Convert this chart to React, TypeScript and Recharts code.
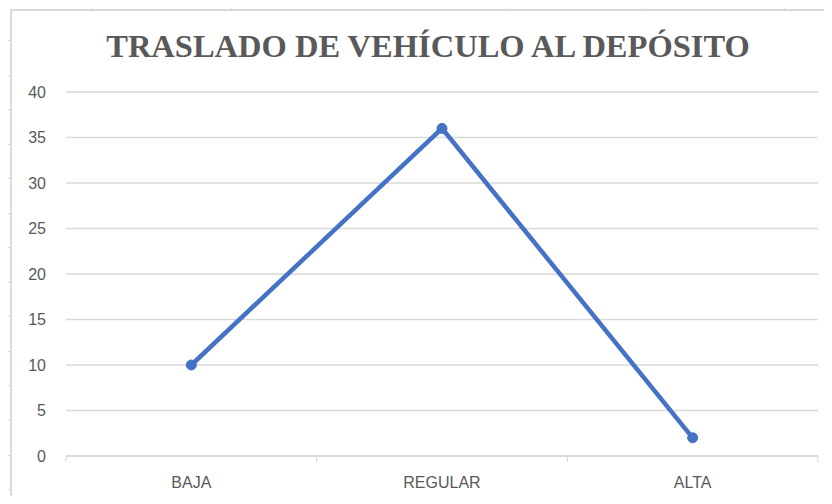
import { LineChart, Line, XAxis, YAxis, CartesianGrid } from "recharts";

const categories = ["BAJA", "REGULAR", "ALTA"];
const values = [10, 36, 2];
const yTicks = [0, 5, 10, 15, 20, 25, 30, 35, 40];

const data = categories.map((name, i) => ({ name, value: values[i] }));

// sheet gridline stubs around the chart frame
const colStubs = [92, 231, 506, 645, 784];
const rowStubs = [40, 75, 109, 144, 178, 213, 247, 282, 316, 351, 385, 420, 455, 489];

const PLOT_LEFT = 66;
const PLOT_RIGHT = 818;
const HALF = (PLOT_RIGHT - PLOT_LEFT) / 6;

const GRID = "#d9d9d9";
const TEXT = "#595959";
const BLUE = "#4472C4";

function CatTick(props: any) {
  const { x, y, payload } = props;
  return (
    <g>
      <line x1={x - HALF} x2={x - HALF} y1={y} y2={y + 6} stroke={GRID} />
      <line x1={x + HALF} x2={x + HALF} y1={y} y2={y + 6} stroke={GRID} />
      <text
        x={x}
        y={y + 32}
        textAnchor="middle"
        fill={TEXT}
        fontSize={16}
        fontFamily="'Liberation Sans', Arial, sans-serif"
      >
        {payload.value}
      </text>
    </g>
  );
}

export default function App() {
  return (
    <div style={{ position: "relative", margin: -8, width: 832, height: 504, background: "#fff", overflow: "hidden" }}>
      {colStubs.map((x) => (
        <div key={x} style={{ position: "absolute", left: x, top: 0, width: 1, height: 9, background: GRID }} />
      ))}
      {rowStubs.map((y) => (
        <div key={y} style={{ position: "absolute", left: 0, top: y, width: 10, height: 1, background: GRID }} />
      ))}
      <div
        style={{
          position: "absolute",
          left: 10,
          top: 9,
          width: 840,
          height: 520,
          borderLeft: `2px solid ${GRID}`,
          borderTop: `2px solid ${GRID}`,
        }}
      />
      <div
        style={{
          position: "absolute",
          left: 0,
          width: 856,
          top: 26,
          textAlign: "center",
          fontFamily: "'Liberation Serif', 'Times New Roman', serif",
          fontWeight: "bold",
          fontSize: 32.5,
          color: TEXT,
          lineHeight: "40px",
          whiteSpace: "nowrap",
        }}
      >
        TRASLADO DE VEHÍCULO AL DEPÓSITO
      </div>
      <div style={{ position: "absolute", left: 0, top: 0 }}>
        <LineChart width={832} height={504} data={data} margin={{ top: 92, right: 14, bottom: 18, left: 0 }}>
          <CartesianGrid vertical={false} stroke={GRID} strokeWidth={1.5} />
          <XAxis
            dataKey="name"
            padding={{ left: HALF, right: HALF }}
            height={30}
            axisLine={{ stroke: GRID, strokeWidth: 1.5 }}
            tickLine={false}
            tickSize={0}
            tickMargin={0}
            tick={<CatTick />}
            interval={0}
          />
          <YAxis
            width={66}
            domain={[0, 40]}
            ticks={yTicks}
            axisLine={false}
            tickLine={false}
            tickSize={0}
            tickMargin={20}
            tick={{ fill: TEXT, fontSize: 16, fontFamily: "'Liberation Sans', Arial, sans-serif" }}
          />
          <Line
            type="linear"
            dataKey="value"
            stroke={BLUE}
            strokeWidth={4.5}
            dot={{ r: 5, fill: BLUE, stroke: BLUE, strokeWidth: 1 }}
            activeDot={false}
            isAnimationActive={false}
          />
        </LineChart>
      </div>
    </div>
  );
}
